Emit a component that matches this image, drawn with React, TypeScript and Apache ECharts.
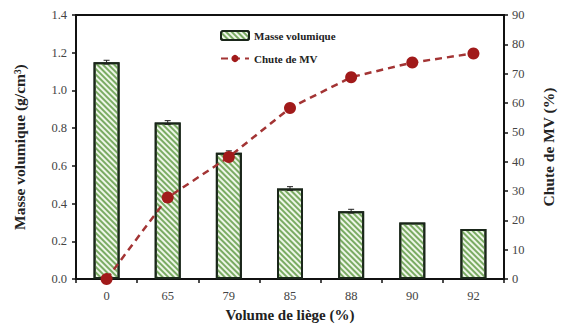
import React, { useEffect, useRef } from "react";
import * as echarts from "echarts";

const categories = ["0", "65", "79", "85", "88", "90", "92"];
const masseVolumique = [1.15, 0.83, 0.67, 0.48, 0.36, 0.3, 0.265];
const masseErr = [0.01, 0.01, 0.01, 0.01, 0.01, 0, 0];
const chuteMV = [0, 27.8, 41.6, 58.3, 68.8, 73.8, 76.9];

const SERIF = "'Liberation Serif', 'DejaVu Serif', serif";

export default function App() {
  const ref = useRef<HTMLDivElement>(null);
  useEffect(() => {
    if (!ref.current) return;
    const chart = echarts.init(ref.current, undefined, { renderer: "svg" });
    const errData = masseVolumique.map((v, i) => [i, v - masseErr[i], v + masseErr[i]]);
    chart.setOption({
      animation: false,
      backgroundColor: "#ffffff",
      grid: {
        left: 76,
        right: 50,
        top: 15,
        bottom: 44,
        show: true,
        borderColor: "#111",
        borderWidth: 2,
        containLabel: false,
      },
      legend: {
        orient: "vertical",
        left: 215,
        top: 25,
        itemWidth: 28,
        itemHeight: 9,
        itemGap: 12,
        textStyle: { fontFamily: SERIF, fontWeight: "bold", fontSize: 11, color: "#222" },
        data: ["Masse volumique", "Chute de MV"],
      },
      xAxis: {
        type: "category",
        data: categories,
        boundaryGap: true,
        name: "Volume de liège (%)",
        nameLocation: "middle",
        nameGap: 27,
        nameTextStyle: { fontFamily: SERIF, fontWeight: "bold", fontSize: 15, color: "#222" },
        axisLine: { lineStyle: { color: "#111", width: 2 } },
        axisTick: { show: true, length: 4, lineStyle: { color: "#111", width: 1.5 } },
        axisLabel: { fontFamily: SERIF, fontSize: 12.5, color: "#444", margin: 10 },
      },
      yAxis: [
        {
          type: "value",
          min: 0,
          max: 1.4,
          interval: 0.2,
          name: "Masse volumique (g/cm³)",
          nameLocation: "middle",
          nameGap: 49,
          nameRotate: 90,
          nameTextStyle: { fontFamily: SERIF, fontWeight: "bold", fontSize: 15.5, color: "#222" },
          axisLine: { show: true, lineStyle: { color: "#111", width: 2 } },
          axisTick: { show: true, length: 4, lineStyle: { color: "#111", width: 1.5 } },
          splitLine: { show: false },
          axisLabel: {
            fontFamily: SERIF,
            fontSize: 12.5,
            color: "#444",
            margin: 9,
            formatter: (v: number) => v.toFixed(1),
          },
        },
        {
          type: "value",
          min: 0,
          max: 90,
          interval: 10,
          position: "right",
          name: "Chute de MV (%)",
          nameLocation: "middle",
          nameGap: 36,
          nameRotate: 90,
          nameTextStyle: { fontFamily: SERIF, fontWeight: "bold", fontSize: 15.5, color: "#222" },
          axisLine: { show: true, lineStyle: { color: "#111", width: 2 } },
          axisTick: { show: true, length: 4, lineStyle: { color: "#111", width: 1.5 } },
          splitLine: { show: false },
          axisLabel: { fontFamily: SERIF, fontSize: 12.5, color: "#444", margin: 8 },
        },
      ],
      series: [
        {
          name: "Masse volumique",
          type: "bar",
          data: masseVolumique,
          barWidth: 26,
          yAxisIndex: 0,
          itemStyle: {
            color: "#eef6e8",
            borderColor: "#1a261a",
            borderWidth: 2,
            decal: {
              symbol: "rect",
              symbolSize: 1,
              dashArrayX: [1, 0],
              dashArrayY: [1.3, 1.9],
              rotation: Math.PI / 4,
              color: "#7aab63",
            },
          },
        },
        {
          name: "errors",
          type: "custom",
          yAxisIndex: 0,
          data: errData,
          z: 5,
          renderItem: (params: any, api: any) => {
            const i = api.value(0);
            const lo = api.coord([i, api.value(1)]);
            const hi = api.coord([i, api.value(2)]);
            if (api.value(2) - api.value(1) <= 0) return { type: "group", children: [] };
            const w = 3;
            const st = { stroke: "#222", lineWidth: 1 };
            return {
              type: "group",
              children: [
                { type: "line", shape: { x1: lo[0], y1: lo[1], x2: hi[0], y2: hi[1] }, style: st },
                { type: "line", shape: { x1: hi[0] - w, y1: hi[1], x2: hi[0] + w, y2: hi[1] }, style: st },
                { type: "line", shape: { x1: lo[0] - w, y1: lo[1], x2: lo[0] + w, y2: lo[1] }, style: st },
              ],
            };
          },
        },
        {
          name: "Chute de MV",
          type: "line",
          yAxisIndex: 1,
          data: chuteMV,
          z: 10,
          symbol: "circle",
          symbolSize: 12,
          lineStyle: { color: "#a33434", width: 2.5, type: [7, 5] },
          itemStyle: { color: "#a11a1a" },
        },
      ],
    });
    return () => chart.dispose();
  }, []);
  return <div ref={ref} style={{ width: 564, height: 327, position: "absolute", left: 0, top: 0 }} />;
}
